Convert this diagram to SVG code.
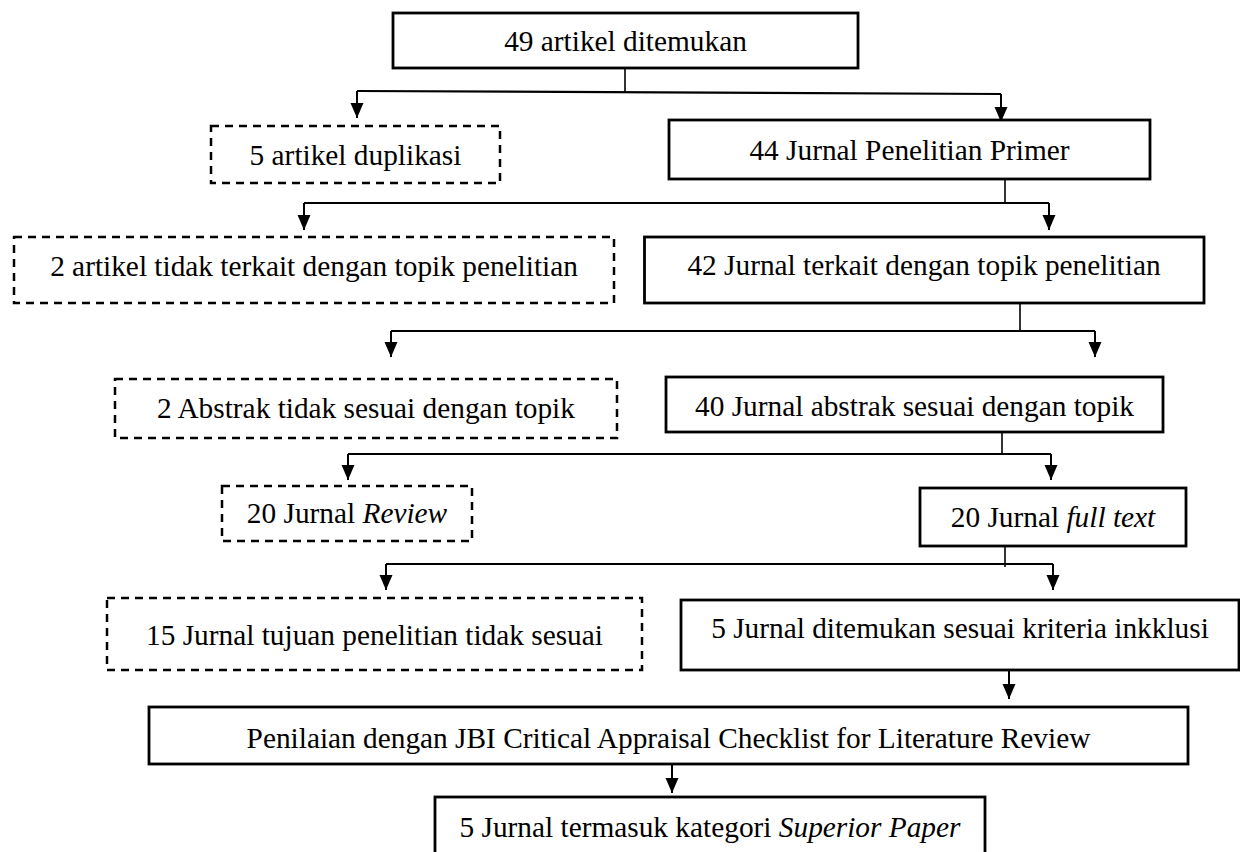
<svg xmlns="http://www.w3.org/2000/svg" width="1240" height="852" viewBox="0 0 1240 852">
<defs>
<style>
.box{fill:#fff;stroke:#000;stroke-width:2.8}
.dash{fill:#fff;stroke:#000;stroke-width:2.5;stroke-dasharray:8 6}
.t{font-family:"Liberation Serif","Times New Roman",serif;font-size:29.33px;fill:#000;text-anchor:middle}
.i{font-style:italic}
.c{fill:none;stroke:#000;stroke-width:2.2}
.stem{fill:none;stroke:#000;stroke-width:1.6}
.a{fill:none;stroke:#000;stroke-width:2;marker-end:url(#arr)}
</style>
<marker id="arr" markerUnits="userSpaceOnUse" markerWidth="15" markerHeight="14" refX="15" refY="7" orient="auto">
<path d="M0,0.5 L15,7 L0,13.5 z" fill="#000"/>
</marker>
</defs>
<rect width="1240" height="852" fill="#fff"/>

<g id="connectors">
<line class="stem" x1="625" y1="68" x2="625" y2="92"/>
<line class="c" x1="357" y1="91" x2="1001" y2="94"/>
<line class="a" x1="357" y1="91" x2="357" y2="118"/>
<line class="a" x1="1001" y1="94" x2="1001" y2="122"/>

<line class="stem" x1="1005" y1="179" x2="1005" y2="203"/>
<line class="c" x1="304" y1="203" x2="1049" y2="203"/>
<line class="a" x1="304" y1="203" x2="304" y2="230"/>
<line class="a" x1="1049" y1="203" x2="1049" y2="230"/>

<line class="stem" x1="1020" y1="303" x2="1020" y2="331"/>
<line class="c" x1="391" y1="331" x2="1095" y2="331"/>
<line class="a" x1="391" y1="331" x2="391" y2="357"/>
<line class="a" x1="1095" y1="331" x2="1095" y2="357"/>

<line class="stem" x1="1002" y1="433" x2="1002" y2="454"/>
<line class="c" x1="348" y1="454" x2="1051" y2="454"/>
<line class="a" x1="348" y1="454" x2="348" y2="480"/>
<line class="a" x1="1051" y1="454" x2="1051" y2="480"/>

<line class="stem" x1="1005" y1="547" x2="1005" y2="567"/>
<line class="c" x1="386" y1="564" x2="1053" y2="564"/>
<line class="a" x1="386" y1="564" x2="386" y2="590"/>
<line class="a" x1="1053" y1="564" x2="1053" y2="590"/>

<line class="a" x1="1009" y1="670" x2="1009" y2="699"/>
<line class="a" x1="672" y1="765" x2="672" y2="793"/>
</g>

<g id="n1"><rect class="box" x="393" y="13" width="465" height="55"/><text class="t" x="625.5" y="51">49 artikel ditemukan</text></g>
<g id="n2"><rect class="dash" x="211" y="126" width="289" height="57"/><text class="t" x="355.5" y="165">5 artikel duplikasi</text></g>
<g id="n3"><rect class="box" x="669" y="120" width="481" height="59"/><text class="t" x="909.5" y="160">44 Jurnal Penelitian Primer</text></g>
<g id="n4"><rect class="dash" x="14" y="237" width="600" height="66"/><text class="t" x="314" y="276">2 artikel tidak terkait dengan topik penelitian</text></g>
<g id="n5"><rect class="box" x="644.5" y="237" width="559.5" height="66"/><text class="t" x="924" y="275">42 Jurnal terkait dengan topik penelitian</text></g>
<g id="n6"><rect class="dash" x="115" y="379" width="502" height="59"/><text class="t" x="366" y="418">2 Abstrak tidak sesuai dengan topik</text></g>
<g id="n7"><rect class="box" x="666" y="377" width="497" height="55"/><text class="t" x="914.5" y="416">40 Jurnal abstrak sesuai dengan topik</text></g>
<g id="n8"><rect class="dash" x="222" y="486" width="250" height="55"/><text class="t" x="347" y="523">20 Jurnal <tspan class="i">Review</tspan></text></g>
<g id="n9"><rect class="box" x="920" y="488" width="266" height="58"/><text class="t" x="1053" y="527">20 Jurnal <tspan class="i">full text</tspan></text></g>
<g id="n10"><rect class="dash" x="107" y="598" width="535" height="72"/><text class="t" x="374.5" y="645">15 Jurnal tujuan penelitian tidak sesuai</text></g>
<g id="n11"><rect class="box" x="681" y="600" width="558" height="70"/><text class="t" x="960" y="638">5 Jurnal ditemukan sesuai kriteria inkklusi</text></g>
<g id="n12"><rect class="box" x="149" y="707" width="1039" height="57"/><text class="t" x="668.5" y="748">Penilaian dengan JBI Critical Appraisal Checklist for Literature Review</text></g>
<g id="n13"><rect class="box" x="435" y="797" width="550" height="62"/><text class="t" x="710" y="837">5 Jurnal termasuk kategori <tspan class="i">Superior Paper</tspan></text></g>
</svg>
